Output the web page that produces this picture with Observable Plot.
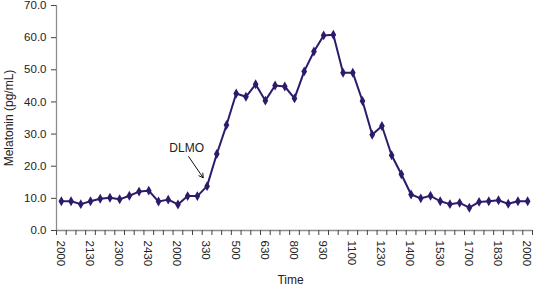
<!DOCTYPE html>
<html>
<head>
<meta charset="utf-8">
<script src="https://cdn.jsdelivr.net/npm/d3@7"></script>
<script src="https://cdn.jsdelivr.net/npm/@observablehq/plot@0.6"></script>
<style>
  html, body { margin: 0; padding: 0; background: #fff; }
  svg { display: block; }
</style>
</head>
<body>
<div id="chart"></div>
<script>
// Melatonin (pg/mL) sampled every 30 minutes, 2000 to 2000 next day
const melatonin = [
  9.1, 9.1, 8.2, 9.1, 9.9, 10.2, 9.7, 10.8, 12.1, 12.4,
  9.0, 9.6, 8.1, 10.7, 10.7, 13.8, 23.8, 32.8, 42.6, 41.6,
  45.5, 40.4, 45.1, 44.8, 41.1, 49.5, 55.7, 60.7, 60.9, 49.1,
  49.1, 40.3, 29.8, 32.5, 23.4, 17.5, 11.2, 10.0, 10.8, 9.1,
  8.2, 8.6, 7.1, 8.9, 9.1, 9.4, 8.3, 9.1, 9.1
];
// Tick labels shown every third sample (as printed in the original)
const timeLabels = [
  "2000", "2130", "2300", "2430", "2000", "330", "500", "630", "800",
  "930", "1100", "1230", "1400", "1530", "1700", "1830", "2000"
];
const labelEvery = 3;
const yTicks = [0, 10, 20, 30, 40, 50, 60, 70];
// DLMO annotation: text anchor and arrow (data units), pointing at sample 15
const annoText = [{i: 12.9, v: 25.6, label: "DLMO"}];
const annoArrow = [{i1: 13.1, v1: 23.0, i2: 14.6, v2: 16.4}];

const data = melatonin.map((v, i) => ({i, v}));
const tickPos = d3.range(melatonin.length + 1).map(k => k - 0.5);
const labelData = timeLabels.map((t, k) => ({i: k * labelEvery, t}));

const navy = "#2d1a6b";
const axisGray = "#8c8c8c";
const font = "'Liberation Sans', Arial, Helvetica, sans-serif";

const chart = Plot.plot({
  width: 533,
  height: 289,
  marginLeft: 56,
  marginRight: 1,
  marginTop: 5,
  marginBottom: 59,
  style: {fontFamily: font, fontSize: "12px", color: "#222", background: "#fff"},
  x: {type: "linear", domain: [-0.5, melatonin.length - 0.5], axis: null},
  y: {domain: [0, 70], axis: null},
  marks: [
    // axes lines
    Plot.ruleX([-0.5], {stroke: axisGray, strokeWidth: 1.3}),
    Plot.ruleY([0], {stroke: axisGray, strokeWidth: 1.3}),
    // x ticks at category boundaries
    Plot.ruleX(tickPos, {x: d => d, y1: 0, y2: 0, insetTop: 0, insetBottom: -5, stroke: "#444", strokeWidth: 1}),
    // y ticks
    Plot.ruleY(yTicks, {y: d => d, x1: -0.5, x2: -0.5, insetLeft: -5, insetRight: 0, stroke: "#444", strokeWidth: 1}),
    // y tick labels
    Plot.text(yTicks, {
      x: -0.5, y: d => d, text: d => d.toFixed(1),
      textAnchor: "end", dx: -10, fontSize: 11.5, fill: "#222"
    }),
    // x tick labels, rotated
    Plot.text(labelData, {
      x: "i", y: 0, text: "t", rotate: 90,
      textAnchor: "start", dy: 10, dx: -1, fontSize: 11.5, fill: "#222"
    }),
    // axis titles
    Plot.text(["Melatonin (pg/mL)"], {
      frameAnchor: "left", text: d => d, rotate: -90, textAnchor: "middle",
      dx: -47, fontSize: 12, fill: "#222"
    }),
    Plot.text(["Time"], {
      frameAnchor: "bottom", text: d => d, dy: 53, dx: -4, fontSize: 12, fill: "#222"
    }),
    // series
    Plot.line(data, {x: "i", y: "v", stroke: navy, strokeWidth: 2}),
    Plot.dot(data, {x: "i", y: "v", symbol: "diamond", r: 3, fill: navy, stroke: "none"}),
    // annotation
    Plot.text(annoText, {x: "i", y: "v", text: "label", fontSize: 12, fill: "#222"}),
    Plot.arrow(annoArrow, {
      x1: "i1", y1: "v1", x2: "i2", y2: "v2",
      stroke: "#111", strokeWidth: 1, headLength: 7
    })
  ]
});
document.getElementById("chart").append(chart);
</script>
</body>
</html>
